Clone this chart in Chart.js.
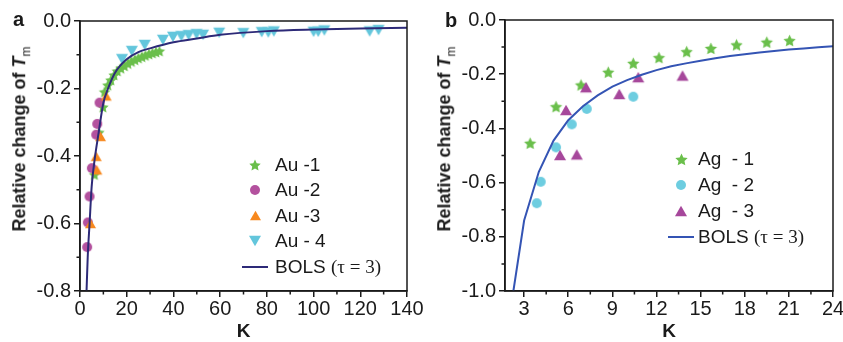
<!DOCTYPE html>
<html>
<head>
<meta charset="utf-8">
<script src="https://cdn.jsdelivr.net/npm/chart.js@4.4.1/dist/chart.umd.min.js"></script>
<style>
  body { margin: 0; background: #fff; }
  #wrap { position: relative; width: 843px; height: 342px; overflow: hidden; background: #fff;
          font-family: "Liberation Sans", Arial, sans-serif; color: #1a1a1a; }
  #wrap > canvas { position: absolute; top: 0; }
  #chartA { left: 0; }
  #chartB { left: 420px; }
  .panel { position: absolute; font-weight: bold; font-size: 20px; line-height: 20px; }
  .ytitle { position: absolute; transform: translate(-50%, -50%) rotate(-90deg); white-space: nowrap;
            font-weight: bold; font-size: 18px; }
  .ytitle sub { font-weight: normal; font-size: 12px; }
  .legend { position: absolute; font-size: 19px; }
  .legend .row { display: flex; align-items: center; white-space: pre; }
  .legend .key { width: 26px; display: flex; justify-content: center; align-items: center; }
  .legend .swatch { display: block; width: 26px; height: 2px; }
  .tau { font-family: "Liberation Serif", "Times New Roman", serif; }
</style>
</head>
<body>
<div id="wrap">
  <canvas id="chartA" width="432" height="342"></canvas>
  <canvas id="chartB" width="432" height="342"></canvas>
  <div class="panel" style="left:13px; top:9px;">a</div>
  <div class="panel" style="left:445px; top:10px;">b</div>
  <div class="ytitle" style="left:21px; top:139px;">Relative change of <i>T</i><sub>m</sub></div>
  <div class="ytitle" style="left:446px; top:139px;">Relative change of <i>T</i><sub>m</sub></div>
  <div class="legend" id="legendA" style="left:242px; top:152px;"></div>
  <div class="legend" id="legendB" style="left:668px; top:146px;"></div>
</div>
<script>
// panel a: Au series (K, relative change of Tm)
const au1K = [6.2, 8.1, 9.8, 10.5, 11.9, 13.2, 14.6, 16.0, 17.5, 19.0, 20.5, 22.0, 23.5, 25.0, 26.5, 28.0, 29.5, 31.0, 32.5, 34.0];
const au1T = [-0.455, -0.33, -0.255, -0.21, -0.19, -0.175, -0.16, -0.148, -0.14, -0.133, -0.126, -0.12, -0.115, -0.11, -0.106, -0.102, -0.098, -0.095, -0.092, -0.089];
const au2K = [3.07, 3.36, 4.08, 5.07, 6.94, 7.37, 8.37];
const au2T = [-0.67, -0.597, -0.52, -0.436, -0.337, -0.305, -0.242];
const au3K = [4.5, 6.94, 7.2, 8.8, 11.2];
const au3T = [-0.6, -0.401, -0.441, -0.342, -0.222];
const au4K = [18.0, 22.2, 27.7, 35.5, 39.8, 43.4, 46.5, 49.9, 52.7, 59.6, 69.9, 77.8, 80.6, 83.0, 100.0, 102.0, 104.6, 124.0, 127.8];
const au4T = [-0.113, -0.089, -0.071, -0.056, -0.047, -0.045, -0.042, -0.039, -0.041, -0.035, -0.036, -0.033, -0.034, -0.031, -0.032, -0.032, -0.028, -0.031, -0.027];
const bolsAK = [2.8, 3.3, 4.1, 5.0, 6.0, 8.0, 10.0, 12.0, 15.0, 20.0, 25.0, 30.0, 40.0, 50.0, 60.0, 80.0, 100.0, 120.0, 140.0];
const bolsAT = [-0.8, -0.7, -0.6, -0.49, -0.425, -0.33, -0.243, -0.2, -0.153, -0.113, -0.092, -0.081, -0.063, -0.052, -0.041, -0.03, -0.025, -0.022, -0.02];

// panel b: Ag series
const ag1K = [3.41, 5.17, 6.87, 8.72, 10.42, 12.17, 14.05, 15.7, 17.44, 19.5, 21.05];
const ag1T = [-0.455, -0.32, -0.24, -0.193, -0.16, -0.139, -0.117, -0.105, -0.092, -0.082, -0.076];
const ag2K = [3.86, 4.13, 5.17, 6.24, 7.26, 10.42];
const ag2T = [-0.676, -0.597, -0.47, -0.385, -0.328, -0.283];
const ag3K = [5.44, 5.85, 6.58, 7.21, 9.47, 10.76, 13.77];
const ag3T = [-0.498, -0.332, -0.496, -0.248, -0.273, -0.211, -0.205];
const bolsBK = [2.27, 3, 4, 5, 6, 7, 8, 9, 10, 11, 12, 13, 14, 15, 16, 17, 18, 19, 20, 21, 22, 23, 24];
const bolsBT = [-1.0, -0.74, -0.56, -0.445, -0.37, -0.318, -0.278, -0.246, -0.222, -0.202, -0.185, -0.171, -0.16, -0.15, -0.141, -0.133, -0.126, -0.12, -0.114, -0.109, -0.105, -0.101, -0.097];

// tick labels
const xTicksA = [0, 20, 40, 60, 80, 100, 120, 140];
const yTicksA = [0, -0.2, -0.4, -0.6, -0.8];
const xTicksB = [3, 6, 9, 12, 15, 18, 21, 24];
const yTicksB = [0, -0.2, -0.4, -0.6, -0.8, -1.0];
const xMinorA = [10, 30, 50, 70, 90, 110, 130];
const yMinorA = [-0.1, -0.3, -0.5, -0.7];
const xMinorB = [4.5, 7.5, 10.5, 13.5, 16.5, 19.5, 22.5];
const yMinorB = [-0.1, -0.3, -0.5, -0.7, -0.9];

const INK = '#1a1a1a';
const FONT = '"Liberation Sans", Arial, sans-serif';

function pts(xs, ys) {
    return xs.map((x, i) => ({ x: x, y: ys[i] }));
}

// marker drawn on a small canvas, used both as pointStyle and in the legend
function marker(shape, color, size) {
    const c = document.createElement('canvas');
    c.width = size + 2;
    c.height = size + 2;
    const g = c.getContext('2d');
    const m = c.width / 2, r = size / 2, h = size * 0.88;
    g.fillStyle = color;
    g.beginPath();
    if (shape === 'circle') {
        g.arc(m, m, r, 0, Math.PI * 2);
    } else if (shape === 'star') {
        for (let i = 0; i < 10; i++) {
            const rr = i % 2 ? r * 0.48 : r;
            const a = -Math.PI / 2 + i * Math.PI / 5;
            g.lineTo(m + rr * Math.cos(a), m + 0.6 + rr * Math.sin(a));
        }
    } else if (shape === 'up') {
        g.moveTo(m, m - h / 2);
        g.lineTo(m + r, m + h / 2);
        g.lineTo(m - r, m + h / 2);
    } else if (shape === 'down') {
        g.moveTo(m, m + h / 2);
        g.lineTo(m + r, m - h / 2);
        g.lineTo(m - r, m - h / 2);
    }
    g.closePath();
    g.fill();
    return c;
}

const frameTicks = {
    id: 'frameTicks',
    afterDraw(chart, args, opts) {
        const { ctx, chartArea: a, scales } = chart;
        ctx.save();
        ctx.strokeStyle = INK;
        ctx.lineWidth = 1.5;
        ctx.strokeRect(a.left, a.top, a.right - a.left, a.bottom - a.top);
        ctx.beginPath();
        opts.xMinor.forEach(v => {
            const px = scales.x.getPixelForValue(v);
            ctx.moveTo(px, a.bottom);
            ctx.lineTo(px, a.bottom + 3.5);
        });
        opts.yMinor.forEach(v => {
            const py = scales.y.getPixelForValue(v);
            ctx.moveTo(a.left, py);
            ctx.lineTo(a.left - 3.5, py);
        });
        ctx.stroke();
        ctx.restore();
    }
};

function axes(xr, yr, xTicks, yTicks, yWidth) {
    const grid = { drawOnChartArea: false, drawTicks: true, tickLength: 6, color: INK, lineWidth: 1.5 };
    const border = { display: true, color: INK, width: 1.5 };
    return {
        x: {
            type: 'linear', min: xr[0], max: xr[1], grid: grid, border: border,
            afterBuildTicks: s => { s.ticks = xTicks.map(v => ({ value: v })); },
            afterFit: s => { s.height = 51; s.paddingLeft = 0; s.paddingRight = 0; },
            ticks: { color: INK, padding: 0, maxRotation: 0, autoSkip: false, font: { family: FONT, size: 20 },
                     callback: v => String(v) },
            title: { display: true, text: 'K', color: INK, padding: { top: 0, bottom: 1 },
                     font: { family: FONT, size: 19, weight: 'bold', lineHeight: 1.0 } }
        },
        y: {
            type: 'linear', min: yr[0], max: yr[1], grid: grid, border: border,
            afterBuildTicks: s => { s.ticks = yTicks.map(v => ({ value: v })); },
            afterFit: s => { s.width = yWidth; s.paddingTop = 0; s.paddingBottom = 0; },
            ticks: { color: INK, padding: 3, autoSkip: false, font: { family: FONT, size: 20 },
                     callback: v => v.toFixed(1) }
        }
    };
}

function scatterSet(xs, ys, style, order) {
    return { type: 'scatter', data: pts(xs, ys), pointStyle: style, pointRadius: 5, order: order };
}

function lineSet(xs, ys, color, smooth) {
    return {
        type: 'line', data: pts(xs, ys), borderColor: color, borderWidth: 2, pointRadius: 0,
        fill: false, order: 0, cubicInterpolationMode: smooth ? 'monotone' : 'default', tension: 0
    };
}

const C = {
    green: '#6abf4b', purpleA: '#b3519e', orange: '#f7891f', cyanA: '#63c6dc', navy: '#2d2a78',
    cyanB: '#6dcde0', purpleB: '#a6479b', blue: '#3454b4'
};

const mk = {
    au1: () => marker('star', C.green, 12),
    au2: () => marker('circle', C.purpleA, 10),
    au3: () => marker('up', C.orange, 11),
    au4: () => marker('down', C.cyanA, 12),
    ag1: () => marker('star', C.green, 13),
    ag2: () => marker('circle', C.cyanB, 10),
    ag3: () => marker('up', C.purpleB, 12)
};

new Chart(document.getElementById('chartA'), {
    type: 'scatter',
    data: {
        datasets: [
            lineSet(bolsAK, bolsAT, C.navy, true),
            scatterSet(au3K, au3T, mk.au3(), 1),
            scatterSet(au2K, au2T, mk.au2(), 2),
            scatterSet(au1K, au1T, mk.au1(), 3),
            scatterSet(au4K, au4T, mk.au4(), 4)
        ]
    },
    options: {
        responsive: false, animation: false, events: [],
        layout: { padding: { left: 0, right: 25, top: 21, bottom: 0 } },
        scales: axes([0, 140], [-0.8, 0], xTicksA, yTicksA, 80),
        plugins: { legend: { display: false }, tooltip: { enabled: false },
                   frameTicks: { xMinor: xMinorA, yMinor: yMinorA } }
    },
    plugins: [frameTicks]
});

new Chart(document.getElementById('chartB'), {
    type: 'scatter',
    data: {
        datasets: [
            lineSet(bolsBK, bolsBT, C.blue, false),
            scatterSet(ag3K, ag3T, mk.ag3(), 1),
            scatterSet(ag2K, ag2T, mk.ag2(), 2),
            scatterSet(ag1K, ag1T, mk.ag1(), 3)
        ]
    },
    options: {
        responsive: false, animation: false, events: [],
        layout: { padding: { left: 0, right: 19, top: 20, bottom: 0 } },
        scales: axes([1.7, 24], [-1.0, 0], xTicksB, yTicksB, 85),
        plugins: { legend: { display: false }, tooltip: { enabled: false },
                   frameTicks: { xMinor: xMinorB, yMinor: yMinorB } }
    },
    plugins: [frameTicks]
});

function buildLegend(id, items, rowH, gap) {
    const box = document.getElementById(id);
    items.forEach(it => {
        const row = document.createElement('div');
        row.className = 'row';
        row.style.height = rowH + 'px';
        const key = document.createElement('div');
        key.className = 'key';
        if (it.line) {
            const sw = document.createElement('span');
            sw.className = 'swatch';
            sw.style.background = it.line;
            key.appendChild(sw);
        } else {
            key.appendChild(it.marker);
        }
        const txt = document.createElement('span');
        txt.style.marginLeft = gap + 'px';
        txt.innerHTML = it.label;
        row.appendChild(key);
        row.appendChild(txt);
        box.appendChild(row);
    });
}

buildLegend('legendA', [
    { marker: mk.au1(), label: 'Au -1' },
    { marker: mk.au2(), label: 'Au -2' },
    { marker: mk.au3(), label: 'Au -3' },
    { marker: mk.au4(), label: 'Au - 4' },
    { line: C.navy, label: 'BOLS <span class="tau">(τ = 3)</span>' }
], 25.5, 7);

buildLegend('legendB', [
    { marker: mk.ag1(), label: 'Ag  - 1' },
    { marker: mk.ag2(), label: 'Ag  - 2' },
    { marker: mk.ag3(), label: 'Ag  - 3' },
    { line: C.blue, label: 'BOLS <span class="tau">(τ = 3)</span>' }
], 26, 4);
</script>
</body>
</html>
